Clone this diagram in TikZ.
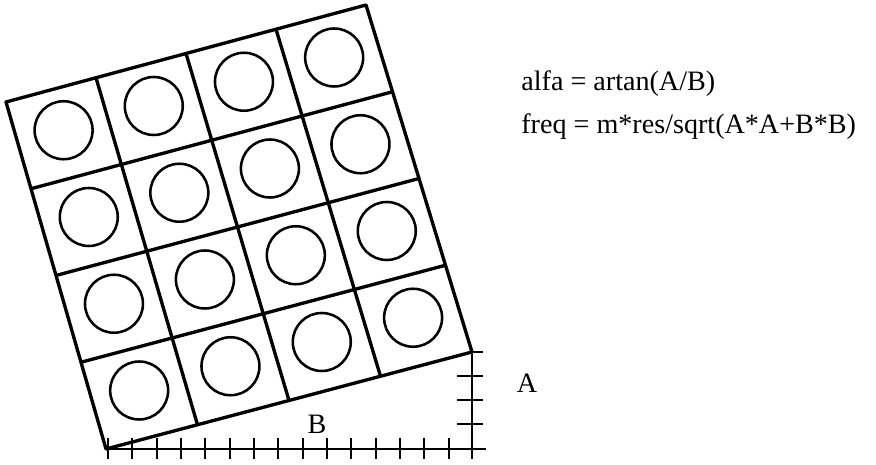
\documentclass[tikz,border=0pt]{standalone}
\usepackage{fontspec}
\setmainfont{Liberation Serif}
\usetikzlibrary{calc}

\begin{document}
\begin{tikzpicture}[
  cell/.style={line width=1.9pt,line join=round},
  hole/.style={line width=1.45pt},
  ruler/.style={line width=1.1pt},
  lbl/.style={font=\fontsize{16}{19}\selectfont,inner sep=0pt}
]
\useasboundingbox (0,0) rectangle (17.52,9.30);
% corners of the tilted block
\coordinate (BL) at (2.12,0.32);
\coordinate (BR) at (9.44,2.26);
\coordinate (TR) at (7.32,9.20);
\coordinate (TL) at (0.12,7.26);
\draw[cell] (BL) -- (BR) -- (TR) -- (TL) -- cycle;
\foreach \t in {0.25,0.5,0.75} {
  \draw[cell] ($(BL)!\t!(BR)$) -- ($(TL)!\t!(TR)$);
  \draw[cell] ($(BL)!\t!(TL)$) -- ($(BR)!\t!(TR)$);
}
% one hole per cell
\foreach \u in {0.125,0.375,0.625,0.875}
  \foreach \v in {0.125,0.375,0.625,0.875} {
    \coordinate (lo) at ($(BL)!\u!(BR)$);
    \coordinate (hi) at ($(TL)!\u!(TR)$);
    \draw[hole] ($(lo)!\v!(hi)+(0,0.06)$) circle (0.58);
  }
% rulers for B and A
\coordinate (Bend) at (9.72,0.32);
\coordinate (Abot) at (9.44,0.12);
\draw[ruler] (BL) -- (Bend);
\draw[ruler] (BR) -- (Abot);
\foreach \k in {0,...,14}
  \draw[ruler] ({2.16+0.4867*\k},0.12) -- ++(0,0.42);
\foreach \y in {0.82,1.30,1.78}
  \draw[ruler] (9.14,\y) -- (9.66,\y);
\draw[ruler] (BR) -- ++(0.22,0);
\node[lbl,anchor=base] (labB) at (6.34,0.62) {B};
\node[lbl,anchor=base] (labA) at (10.54,1.44) {A};
\node[lbl,anchor=base west] (alfa) at (10.42,7.48) {alfa = artan(A/B)};
\node[lbl,anchor=base west] (freq) at (10.42,6.62) {freq = m*res/sqrt(A*A+B*B)};
\end{tikzpicture}
\end{document}
